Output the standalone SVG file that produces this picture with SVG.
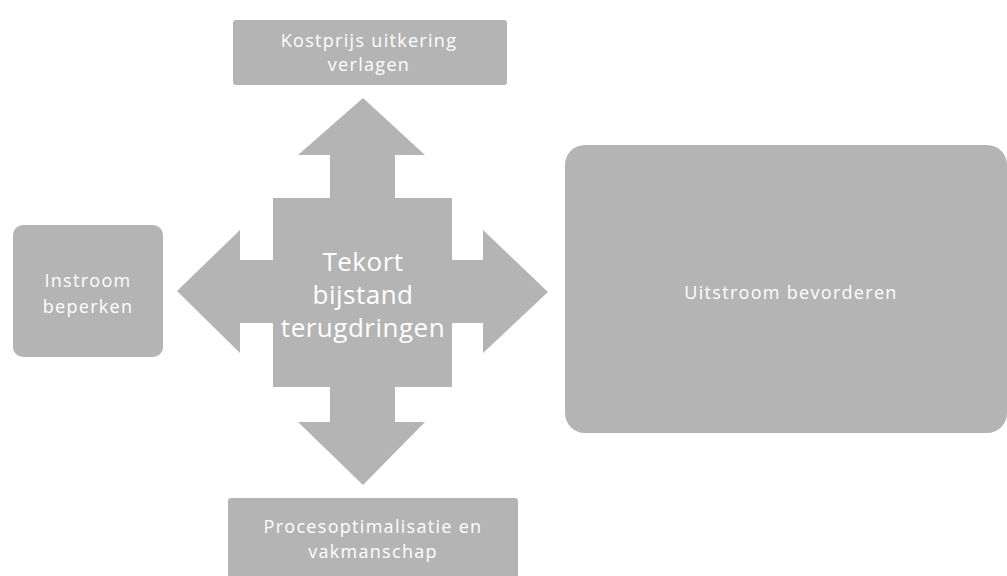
<svg xmlns="http://www.w3.org/2000/svg" width="1007" height="576" viewBox="0 0 1007 576">
<style>
.box{fill:#b4b4b4}
.arr{fill:#b4b4b4}
.t{font-family:"Open Sans",Lato,sans-serif;fill:#ffffff;text-anchor:middle}
.s{font-size:18px;letter-spacing:1.3px}
.c{font-size:26px;letter-spacing:0.5px}
</style>
<rect width="1007" height="576" fill="#ffffff"/>
<g id="connectors">
<polygon class="arr" points="330,199 330,155 298,155 363,98 425,155 395,155 395,199"/>
<polygon class="arr" points="330,386 330,422 298,422 363,485 425,422 395,422 395,386"/>
<polygon class="arr" points="274,260 240,260 240,230 177,291 240,353 240,323 274,323"/>
<polygon class="arr" points="451,260 483,260 483,230 548,292 483,353 483,323 451,323"/>
</g>
<g id="center">
<rect class="box" x="273" y="198" width="179" height="189"/>
<text class="t c" x="363" y="271">Tekort</text>
<text class="t c" x="363" y="304">bijstand</text>
<text class="t c" x="363" y="337">terugdringen</text>
</g>
<g id="top">
<rect class="box" x="233" y="20" width="274" height="65" rx="3"/>
<text class="t s" x="369" y="47">Kostprijs uitkering</text>
<text class="t s" x="369" y="71">verlagen</text>
</g>
<g id="left">
<rect class="box" x="13" y="225" width="150" height="132" rx="10"/>
<text class="t s" x="88" y="287">Instroom</text>
<text class="t s" x="88" y="313">beperken</text>
</g>
<g id="right">
<rect class="box" x="565" y="145" width="442" height="288" rx="20"/>
<text class="t s" x="791" y="299">Uitstroom bevorderen</text>
</g>
<g id="bottom">
<rect class="box" x="228" y="498" width="290" height="82" rx="3"/>
<text class="t s" x="373" y="533">Procesoptimalisatie en</text>
<text class="t s" x="373" y="558">vakmanschap</text>
</g>
</svg>
